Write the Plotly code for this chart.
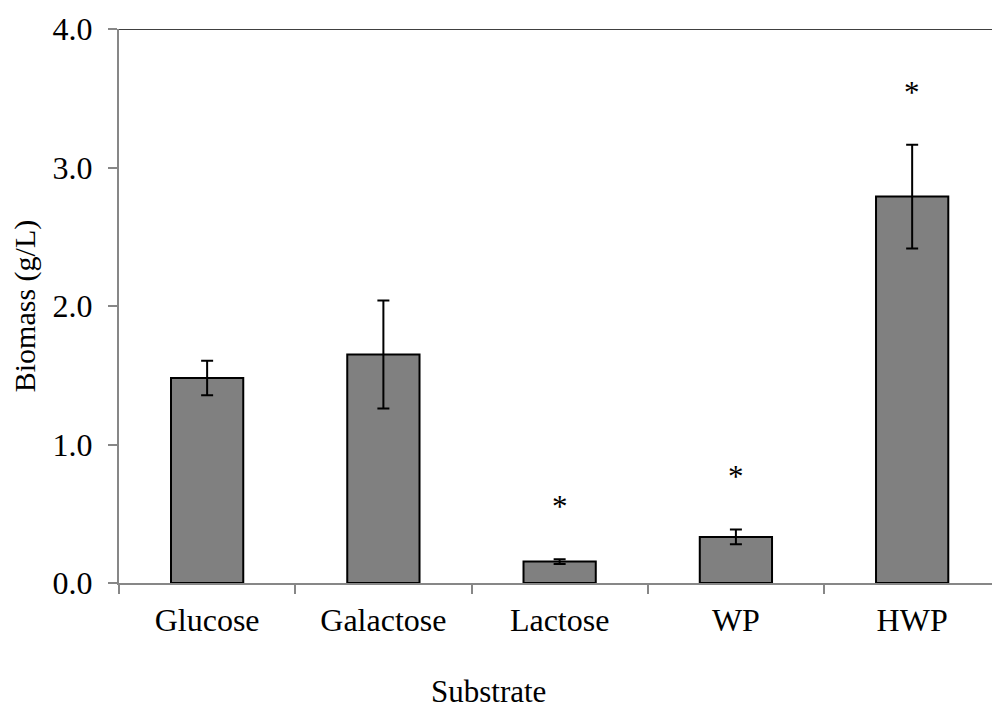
import plotly.graph_objects as go

# Biomass yield per carbon substrate
substrates = ["Glucose", "Galactose", "Lactose", "WP", "HWP"]
biomass = [1.48, 1.65, 0.155, 0.333, 2.79]
biomass_sd = [0.125, 0.39, 0.017, 0.053, 0.375]
significance = ["", "", "*", "*", "*"]
y_ticks = [0, 1, 2, 3, 4]

FONT = "Liberation Serif"
AXIS_GREY = "#878787"

fig = go.Figure()
fig.add_trace(go.Bar(
    x=substrates,
    y=biomass,
    marker=dict(color="#808080", line=dict(color="black", width=2)),
    error_y=dict(type="data", array=biomass_sd, visible=True,
                 color="black", thickness=2, width=6),
    width=0.41,
    showlegend=False,
))

# significance markers above the error bars
for name, val, sd, mark in zip(substrates, biomass, biomass_sd, significance):
    if mark:
        fig.add_annotation(x=name, y=val + sd + 0.38, text=mark, showarrow=False,
                           font=dict(family=FONT, size=31, color="black"),
                           yanchor="middle")

# x-axis title, set slightly left of the plot centre
fig.add_annotation(text="Substrate", xref="paper", yref="paper",
                   x=0.4227, y=-0.196, xanchor="center", yanchor="middle",
                   showarrow=False,
                   font=dict(family=FONT, size=31, color="black"))

# top frame line
fig.add_shape(type="line", xref="paper", yref="y", x0=0, x1=1, y0=4, y1=4,
              line=dict(color="black", width=1.5))

fig.update_layout(
    width=992, height=710,
    margin=dict(l=119, r=0, t=29, b=127),
    plot_bgcolor="white", paper_bgcolor="white",
    font=dict(family=FONT, size=31, color="black"),
    xaxis=dict(
        showline=True, linecolor=AXIS_GREY, linewidth=2,
        ticks="outside", tickson="boundaries", ticklen=9, tickcolor=AXIS_GREY,
        tickwidth=1.5, showgrid=False, range=[-0.5, 4.453],
        tickfont=dict(family=FONT, size=32, color="black"),
        ticklabelstandoff=8, automargin=False,
    ),
    yaxis=dict(
        title=dict(text="Biomass (g/L)", standoff=8,
                   font=dict(family=FONT, size=30, color="black")),
        range=[0, 4], tickvals=y_ticks, tickformat=".1f",
        showline=True, linecolor=AXIS_GREY, linewidth=2,
        ticks="outside", ticklen=9, tickcolor=AXIS_GREY, tickwidth=1.5,
        showgrid=False, zeroline=False,
        tickfont=dict(family=FONT, size=32, color="black"),
        ticklabelstandoff=9, automargin=False,
    ),
)

fig.write_html("out.html")
